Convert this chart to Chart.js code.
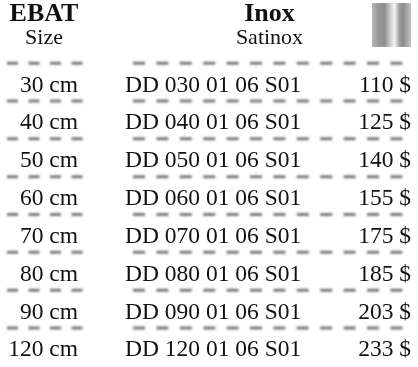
<!DOCTYPE html>
<html>
<head>
<meta charset="UTF-8">
<title>EBAT / Inox Satinox</title>
<style>
  html, body { margin: 0; padding: 0; background: #fff; }
  #wrap { position: relative; width: 418px; height: 367px; }
  #warm { position: absolute; left: -999px; top: 0; font-family: "Liberation Serif", serif; }
</style>
</head>
<body>
<div id="wrap">
  <canvas id="tablo"></canvas>
</div>
<span id="warm">EBAT <b>Inox</b> 0123456789 $</span>

<script src="https://cdn.jsdelivr.net/npm/chart.js@4/dist/chart.umd.min.js"></script>

<script>
  // table data
  var sizes  = ['30 cm', '40 cm', '50 cm', '60 cm', '70 cm', '80 cm', '90 cm', '120 cm'];
  var codes  = ['DD 030 01 06 S01', 'DD 040 01 06 S01', 'DD 050 01 06 S01', 'DD 060 01 06 S01',
                'DD 070 01 06 S01', 'DD 080 01 06 S01', 'DD 090 01 06 S01', 'DD 120 01 06 S01'];
  var prices = [110, 125, 140, 155, 175, 185, 203, 233];
  var headers = [['EBAT', 'Size'], ['Inox', 'Satinox']];

  var serif = '"Liberation Serif", Tinos, "Times New Roman", "DejaVu Serif", serif';

  // dashed separators, one line dataset per segment, above each row
  var datasets = [];
  for (var i = 0; i < sizes.length; i++) {
    var yy = i - 0.53;
    datasets.push({
      data: [{x: 7, y: yy}, {x: 88, y: yy}],
      borderColor: '#7a7a7a', borderWidth: 3, borderDash: [11, 10.5],
      pointRadius: 0, showLine: true, fill: false
    });
    datasets.push({
      data: [{x: 133, y: yy}, {x: 410, y: yy}],
      borderColor: '#7a7a7a', borderWidth: 3, borderDash: [12, 11.4],
      pointRadius: 0, showLine: true, fill: false
    });
  }

  var blurLines = {
    id: 'blurLines',
    beforeDatasetsDraw: function(chart) {
      chart.ctx.save();
      chart.ctx.filter = 'blur(0.9px)';
    },
    afterDatasetsDraw: function(chart) {
      chart.ctx.restore();
    }
  };

  var tableText = {
    id: 'tableText',
    afterDraw: function(chart) {
      var ctx = chart.ctx;
      var xs = chart.scales.x, ys = chart.scales.y;
      ctx.save();
      ctx.fillStyle = '#111';
      ctx.textBaseline = 'alphabetic';

      // header
      var hx = [44, 269.5];
      for (var h = 0; h < headers.length; h++) {
        ctx.textAlign = 'center';
        ctx.font = 'bold 26px ' + serif;
        ctx.fillText(headers[h][0], xs.getPixelForValue(hx[h]), ys.getPixelForValue(-1.65));
        ctx.font = '22px ' + serif;
        ctx.fillText(headers[h][1], xs.getPixelForValue(hx[h]), ys.getPixelForValue(-1.05));
      }

      // rows
      ctx.font = '23.5px ' + serif;
      for (var i = 0; i < sizes.length; i++) {
        var by = ys.getPixelForValue(i) + 8.3;
        ctx.textAlign = 'right';
        ctx.fillText(sizes[i], xs.getPixelForValue(78), by);
        ctx.textAlign = 'left';
        ctx.fillText(codes[i], xs.getPixelForValue(125), by);
        ctx.textAlign = 'right';
        ctx.fillText(prices[i] + ' $', xs.getPixelForValue(411), by);
      }

      // satin swatch
      var x0 = xs.getPixelForValue(372), x1 = xs.getPixelForValue(411);
      var y0 = ys.getPixelForValue(-2.12), y1 = ys.getPixelForValue(-0.96);
      var g = ctx.createLinearGradient(x0, 0, x1, 0);
      g.addColorStop(0.00, '#b8b8b8');
      g.addColorStop(0.15, '#9a9a9a');
      g.addColorStop(0.32, '#8e8e8e');
      g.addColorStop(0.50, '#d8d8d8');
      g.addColorStop(0.58, '#f4f4f4');
      g.addColorStop(0.70, '#a0a0a0');
      g.addColorStop(0.80, '#8c8c8c');
      g.addColorStop(1.00, '#c4c4c4');
      ctx.filter = 'blur(0.6px)';
      ctx.fillStyle = g;
      ctx.fillRect(x0, y0, x1 - x0, y1 - y0);
      ctx.restore();
    }
  };

  var chart;
  var build = function() {
    chart = new Chart(document.getElementById('tablo'), {
      type: 'scatter',
      data: { datasets: datasets },
      options: {
        responsive: true,
        maintainAspectRatio: false,
        animation: false,
        layout: { padding: 0 },
        plugins: { legend: { display: false }, tooltip: { enabled: false } },
        scales: {
          x: { type: 'linear', min: 0, max: 418, display: false },
          y: { type: 'linear', min: -2.2, max: 7.5, reverse: true, display: false }
        }
      },
      plugins: [blurLines, tableText]
    });
  };

  Promise.all([
    document.fonts.load('23.5px "Liberation Serif"'),
    document.fonts.load('bold 26px "Liberation Serif"')
  ]).then(build, build);
</script>
</body>
</html>
